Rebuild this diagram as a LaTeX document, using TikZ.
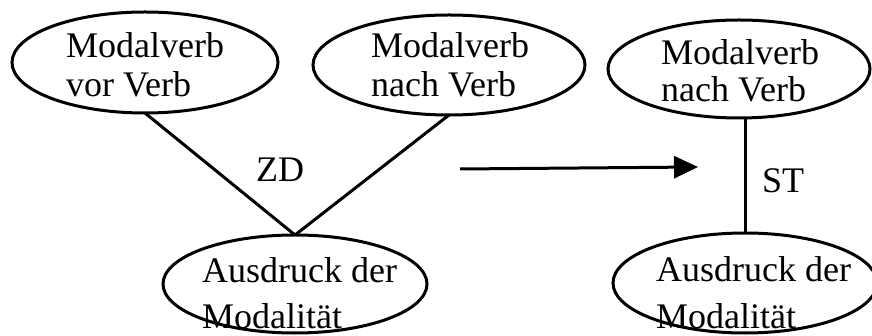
\documentclass[tikz,border=0pt]{standalone}
\usepackage{fontspec}
\setmainfont{Liberation Serif}
\usetikzlibrary{shapes.geometric,arrows.meta}
\begin{document}
\begin{tikzpicture}[x=1pt,y=-1pt,
  ell/.style={draw,ellipse,line width=3pt,inner sep=0pt,outer sep=0pt},
  txt/.style={anchor=base west,inner sep=0pt,text depth=0pt,font=\fontsize{36}{40}\selectfont},
  conn/.style={line width=3pt}]
\useasboundingbox (0,0) rectangle (872,336);
% ellipses
\node[ell,minimum width=266pt,minimum height=101pt] (e1) at (145,62.5) {};
\node[ell,minimum width=272pt,minimum height=100pt] (e2) at (449,65) {};
\node[ell,minimum width=262pt,minimum height=98pt] (e3) at (739,69) {};
\node[ell,minimum width=264pt,minimum height=98pt] (e5) at (295,284) {};
\node[ell,minimum width=264pt,minimum height=100pt] (e4) at (745,283) {};
% texts
\node[txt] (t1a) at (66,58) {Modalverb};
\node[txt] (t1b) at (66,97) {vor Verb};
\node[txt] (t2a) at (371,58) {Modalverb};
\node[txt] (t2b) at (371,97) {nach Verb};
\node[txt] (t3a) at (661,65) {Modalverb};
\node[txt] (t3b) at (661,102) {nach Verb};
\node[txt] (t5a) at (202,283) {Ausdruck der};
\node[txt] (t5b) at (202,329) {Modalität};
\node[txt] (t4a) at (656,282) {Ausdruck der};
\node[txt] (t4b) at (656,328) {Modalität};
% labels
\node[txt] (zd) at (256,182) {ZD};
\node[txt] (st) at (762,193) {ST};
% connectors
\draw[conn] (e1.south) -- (e5.north);
\draw[conn] (e2.south) -- (e5.north);
\draw[conn] (e4.north) -- (e4.north |- e3.south);
\coordinate (a0) at (460,169);
\coordinate (a1) at (698,167);
\draw[conn,-{Triangle[length=24pt,width=22pt]}] (a0) -- (a1);
\end{tikzpicture}
\end{document}
